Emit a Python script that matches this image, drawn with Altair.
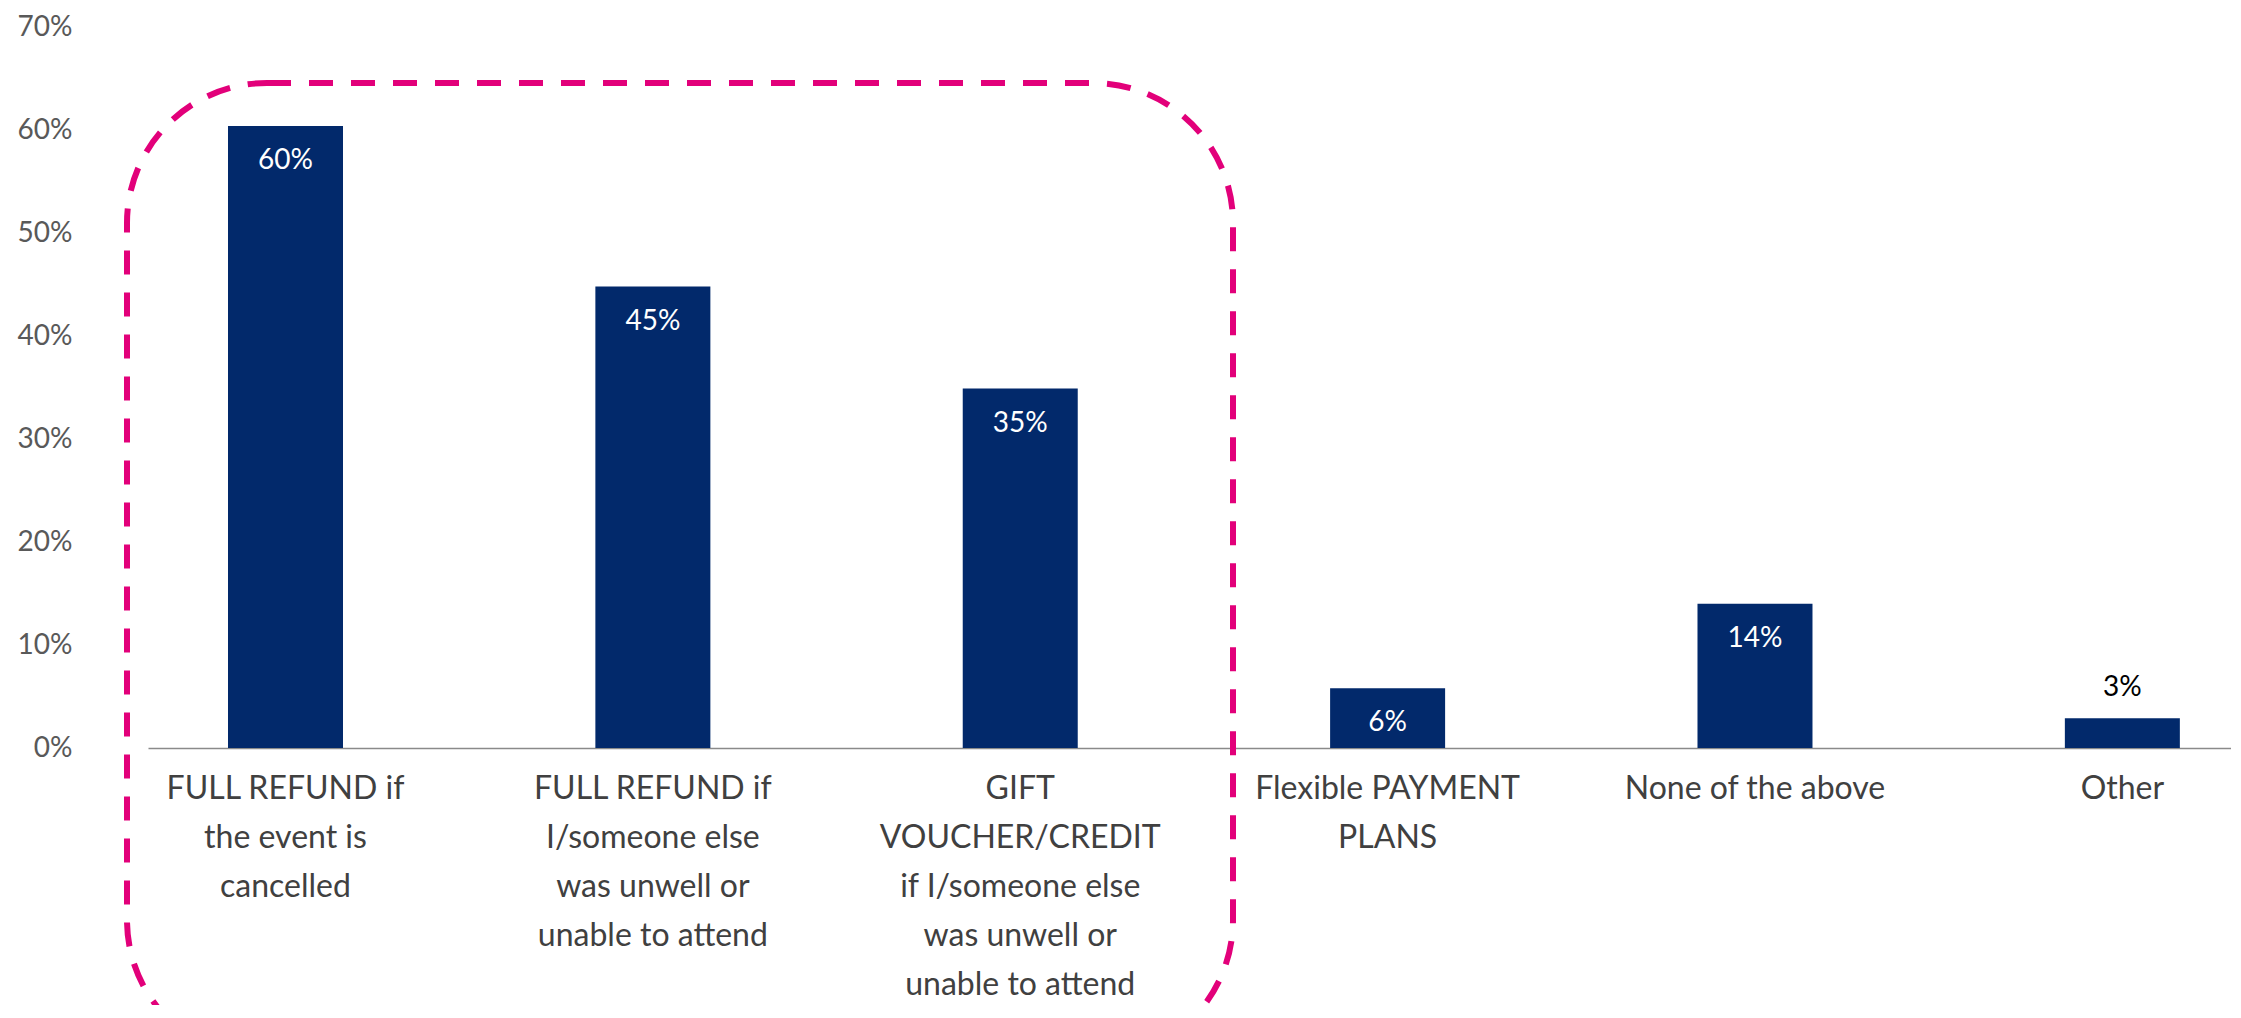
import altair as alt
import pandas as pd

categories = [
    "FULL REFUND if\nthe event is\ncancelled",
    "FULL REFUND if\nI/someone else\nwas unwell or\nunable to attend",
    "GIFT\nVOUCHER/CREDIT\nif I/someone else\nwas unwell or\nunable to attend",
    "Flexible PAYMENT\nPLANS",
    "None of the above",
    "Other",
]
values = [0.604, 0.448, 0.349, 0.058, 0.140, 0.029]
inside_label = [True, True, True, True, True, False]

df = pd.DataFrame({"cat": categories, "val": values, "inside": inside_label})

W, H = 2083, 721
FONT = "Lato"
NAVY = "#02296B"
PINK = "#E2007A"

x_enc = alt.X(
    "cat:N",
    sort=categories,
    scale=alt.Scale(paddingInner=0.687, paddingOuter=0.1785, align=0.61),
    axis=alt.Axis(
        title=None,
        labelAngle=0,
        labelExpr="split(datum.label, '\\n')",
        labelFont=FONT,
        labelFontSize=32,
        labelColor="#404040",
        labelLineHeight=49,
        labelPadding=25,
        labelBaseline="top",
        labelLimit=0,
        labelOverlap=False,
        labelBound=False,
        ticks=False,
        domainColor="#8a8a8a",
        domainWidth=1.5,
    ),
)
y_enc = alt.Y(
    "val:Q",
    scale=alt.Scale(domain=[0, 0.7], nice=False),
    axis=alt.Axis(
        title=None,
        format=".0%",
        values=[0, 0.1, 0.2, 0.3, 0.4, 0.5, 0.6, 0.7],
        labelFont=FONT,
        labelFontSize=28,
        labelColor="#595959",
        labelPadding=76,
        ticks=False,
        domain=False,
        grid=False,
    ),
)

base = alt.Chart(df)

bars = base.mark_bar(color=NAVY, size=115).encode(x=x_enc, y=y_enc)

lab_in = base.transform_filter("datum.inside").mark_text(
    color="white", font=FONT, fontSize=28, baseline="middle", dy=35
).encode(x=alt.X("cat:N", sort=categories), y="val:Q", text=alt.Text("val:Q", format=".0%"))

lab_out = base.transform_filter("!datum.inside").mark_text(
    color="black", font=FONT, fontSize=28, baseline="middle", dy=-30
).encode(x=alt.X("cat:N", sort=categories), y="val:Q", text=alt.Text("val:Q", format=".0%"))

box = alt.Chart(pd.DataFrame({"k": [0]})).mark_rect(
    fill="transparent", stroke=PINK, strokeWidth=6, strokeDash=[24, 18], cornerRadius=140
).encode(
    x=alt.value(-21), x2=alt.value(1085), y=alt.value(56), y2=alt.value(1033)
)

chart = alt.layer(bars, lab_in, lab_out, box).properties(
    width=W,
    height=H,
    autosize=alt.AutoSizeParams(type="none"),
    padding={"left": 140, "top": 19, "right": 0, "bottom": 257},
    background="white",
).configure_view(stroke=None)

chart.save("out.html", embed_options={"renderer": "svg", "actions": False})
